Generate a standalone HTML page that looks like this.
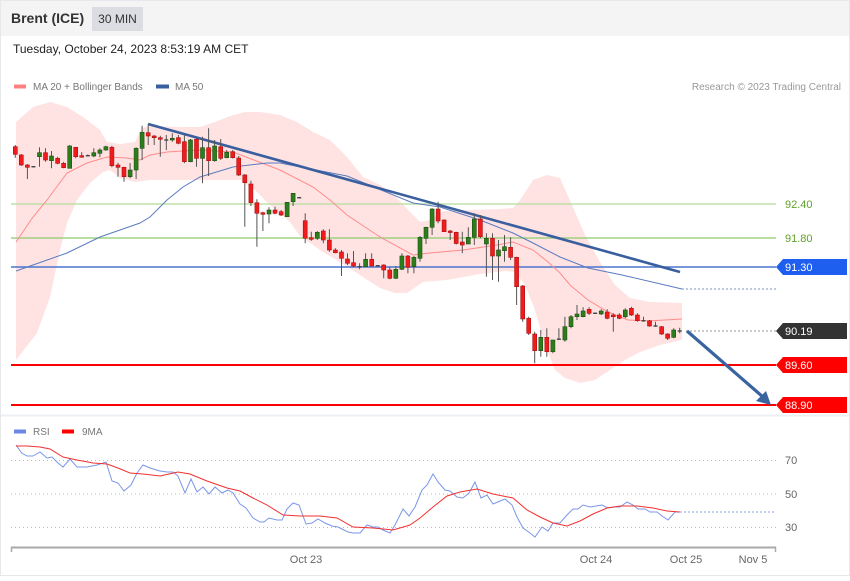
<!DOCTYPE html>
<html><head><meta charset="utf-8"><style>
html,body{margin:0;padding:0;background:#fff;}
body{width:850px;height:576px;overflow:hidden;font-family:"Liberation Sans",Arial,sans-serif;}
svg text{font-family:"Liberation Sans",Arial,sans-serif;}
</style></head><body>
<svg width="850" height="576" viewBox="0 0 850 576" xmlns="http://www.w3.org/2000/svg">
<rect x="0" y="0" width="850" height="576" fill="#fff"/>
<rect x="0.5" y="0.5" width="849" height="575" fill="none" stroke="#e6e8ea"/>
<rect x="1" y="1" width="848" height="35" fill="#f4f4f4"/>
<text x="11" y="23" font-size="14" font-weight="bold" fill="#333">Brent (ICE)</text>
<rect x="92" y="7" width="51" height="24" fill="#dcdde2"/>
<text x="117.5" y="23" font-size="12" fill="#333" text-anchor="middle">30 MIN</text>
<text x="13" y="53" font-size="12" fill="#222">Tuesday, October 24, 2023 8:53:19 AM CET</text>
<rect x="14" y="84.5" width="12" height="4" fill="#ff8080"/>
<text x="33" y="90" font-size="10" fill="#777">MA 20 + Bollinger Bands</text>
<rect x="156" y="84.5" width="13" height="4" fill="#3a5f9f"/>
<text x="175" y="90" font-size="10" fill="#777">MA 50</text>
<text x="841" y="90" font-size="10" fill="#999" text-anchor="end">Research © 2023 Trading Central</text>

<polygon fill="#ffe2e2" points="16,122 33,107 50,102 67,107 83,117 100,130 107,142 120,144 135,142 142,128 150,126 180,127 200,127 215,122 230,116 245,112 260,112 280,115 297,122 313,132 330,140 347,157 363,177 380,185 395,196 410,212 420,222 430,220 443,211 467,210 500,209 513,208 520,200 533,180 547,175 560,178 572,205 585,235 600,262 615,285 630,298 650,302 682,303 682,340 660,345 640,352 625,360 610,370 595,380 580,383 565,378 555,370 545,345 535,310 525,285 515,272 505,271 480,274 447,280 423,282 407,293 395,293 380,288 363,277 340,262 323,252 300,236 290,222 270,205 255,190 240,180 200,180 150,180 135,182 120,178 110,170 103,172 90,183 77,200 67,223 60,250 50,297 37,333 16,360"/>

<line x1="11" y1="204" x2="776" y2="204" stroke="#bfe0a8" stroke-width="1.6"/>
<line x1="11" y1="238" x2="776" y2="238" stroke="#8fcb6c" stroke-width="1.2"/>
<line x1="11" y1="267" x2="776" y2="267" stroke="#4a74d0" stroke-width="1.5"/>
<line x1="11" y1="365" x2="776" y2="365" stroke="#ff0000" stroke-width="2"/>
<line x1="11" y1="405" x2="776" y2="405" stroke="#ff0000" stroke-width="2"/>
<line x1="686" y1="331" x2="776" y2="331" stroke="#999" stroke-width="1" stroke-dasharray="2,2"/>
<line x1="682" y1="289" x2="776" y2="289" stroke="#7a94c4" stroke-width="1" stroke-dasharray="2,2"/>

<polyline fill="none" stroke="#ff8c8c" stroke-width="1" points="16,242 33,217 47,200 67,173 87,163 107,157 127,158 140,160 150,155 167,152 183,151 200,150 233,152 267,165 280,170 313,187 330,200 347,215 380,237 413,255 430,253 463,250 497,245 513,242 533,250 548,262 560,273 570,285 588,300 608,312 628,320 648,321 682,319"/>
<polyline fill="none" stroke="#5a7cc0" stroke-width="1" points="16,271 33,265 67,253 100,237 140,223 150,217 167,200 183,187 200,177 233,167 267,163 280,163 347,176 413,203 440,207 480,220 513,233 533,243 560,257 588,268 622,275 682,289"/>
<line x1="148" y1="124" x2="680" y2="272" stroke="#3a5f9f" stroke-width="2.6"/>

<g stroke="#555" stroke-width="1">
<path d="M15.3 145V157.7M21.3 154V166M27.4 164V179M33.4 166V167.5M39.5 147.3V166.7M45.5 148.3V161.7M51.5 151V168.3M57.6 156.7V164.3M63.6 161.7V168.3M69.7 145V168.3M75.7 147V158.3M81.7 152.3V157.7M87.8 154.5V156.5M93.8 148.3V157.3M99.9 148.3V157.3M105.9 145.7V150.7M111.9 145.7V167.3M118 162.7V176.7M124 166.7V181.7M130.1 163V178.3M136.1 147.3V179M142.1 125.7V160M148.2 124.3V145M154.2 135V145M160.3 135.7V156.7M166.3 135V150M172.3 133.3V141.7M178.4 135V144.3M184.4 135V163.3M190.5 139V162.3M196.5 138.3V166.7M202.5 136.7V183.3M208.6 128.3V176M214.6 140V161.7M220.7 139V160M226.7 150V158.3M232.7 150V158.5M238.7 156V176M244.8 174V226.7M250.9 180.7V206M256.9 199.3V246.7M262.9 211.7V231M269 207.3V223.3M275 206.7V214.3M281.1 210V216M287.1 202V217M293.1 193.3V206M299.2 197V198.5M305.2 213.3V243.3M311.3 231.7V240.7M317.3 231V240M323.3 229.3V243.3M329.4 229.3V251.7M335.4 248.3V253.3M341.5 250V276M347.5 253.3V265M353.5 251V267.3M359.6 263.3V269.3M365.6 253.3V266.7M371.7 253.3V266.7M377.7 265V266.5M383.7 264.3V278.3M389.8 266.7V279.3M395.8 266V279M401.9 253.3V270M407.9 255V273.3M413.9 256V273.3M420 236V261.7M426 226.7V244M432.1 208.3V235M438.1 201.7V223.3M444.1 219.3V231.7M450.2 230V240M456.2 231.7V244.5M462.3 231.7V253.3M468.3 227.3V244M474.3 213.3V245M480.4 215V238.3M486.4 233.3V276.7M492.5 233.3V280M498.5 240V281.7M504.5 235V261.7M510.6 237.3V260M516.6 256.7V305M522.7 285V321.7M528.7 316.7V335M534.7 331.7V363.3M540.8 330V356.7M546.8 328.3V356.7M552.9 340V353.3M558.9 328.3V340M564.9 316.7V341.7M571 315V328.3M577 305V320M583.1 307.3V317.3M589.1 307.3V315M595.1 312.5V314M601.2 309.3V315M607.2 309.3V319.3M613.3 313.3V331.7M619.3 313.3V319.3M625.3 308.3V318.3M631.4 306.7V316M637.4 313.3V321.7M643.5 316.7V321.7M649.5 320V326.7M655.5 321.7V326.7M661.6 326V335M667.6 333.3V340M673.7 328.3V338.3M679.7 327.7V333.3"/>
</g>
<g fill="#ee1c1c" stroke="#b01010" stroke-width="0.6">
<rect x="13.3" y="146.7" width="4" height="7.6"/>
<rect x="19.3" y="155" width="4" height="10"/>
<rect x="25.4" y="165" width="4" height="2.3"/>
<rect x="43.5" y="152.7" width="4" height="7.3"/>
<rect x="55.6" y="158.3" width="4" height="5"/>
<rect x="61.6" y="163.3" width="4" height="4.4"/>
<rect x="73.7" y="147.3" width="4" height="9.4"/>
<rect x="79.7" y="155.7" width="4" height="1.5"/>
<rect x="109.9" y="147.3" width="4" height="18.4"/>
<rect x="116" y="165" width="4" height="2.3"/>
<rect x="122" y="167.3" width="4" height="9.4"/>
<rect x="146.2" y="132.7" width="4" height="3.3"/>
<rect x="152.2" y="136" width="4" height="1.7"/>
<rect x="158.3" y="137.7" width="4" height="1.6"/>
<rect x="176.4" y="137.7" width="4" height="5.6"/>
<rect x="182.4" y="141.7" width="4" height="20"/>
<rect x="194.5" y="139.3" width="4" height="19"/>
<rect x="206.6" y="147.7" width="4" height="13"/>
<rect x="218.7" y="146.7" width="4" height="11.6"/>
<rect x="230.7" y="151.7" width="4" height="6"/>
<rect x="236.7" y="158" width="4" height="17"/>
<rect x="242.8" y="175" width="4" height="7.7"/>
<rect x="248.9" y="184" width="4" height="18.7"/>
<rect x="254.9" y="202.7" width="4" height="10.6"/>
<rect x="260.9" y="212.7" width="4" height="1.6"/>
<rect x="273" y="210" width="4" height="3.3"/>
<rect x="279.1" y="211.7" width="4" height="3.3"/>
<rect x="303.2" y="220.7" width="4" height="17.6"/>
<rect x="309.3" y="237.7" width="4" height="1.6"/>
<rect x="321.3" y="231" width="4" height="9"/>
<rect x="327.4" y="240" width="4" height="10"/>
<rect x="333.4" y="250" width="4" height="2.7"/>
<rect x="339.5" y="252" width="4" height="6.3"/>
<rect x="345.5" y="259" width="4" height="4.3"/>
<rect x="351.5" y="262.7" width="4" height="3.3"/>
<rect x="369.7" y="259.3" width="4" height="6.7"/>
<rect x="381.7" y="265" width="4" height="5"/>
<rect x="387.8" y="270" width="4" height="8.3"/>
<rect x="405.9" y="256" width="4" height="11.3"/>
<rect x="436.1" y="209" width="4" height="12"/>
<rect x="442.1" y="220" width="4" height="11.7"/>
<rect x="448.2" y="231" width="4" height="1.5"/>
<rect x="454.2" y="232.3" width="4" height="11.2"/>
<rect x="460.3" y="242" width="4" height="3"/>
<rect x="478.4" y="219" width="4" height="17.7"/>
<rect x="490.5" y="238.3" width="4" height="17.7"/>
<rect x="508.6" y="247.3" width="4" height="10"/>
<rect x="514.6" y="257.3" width="4" height="29.4"/>
<rect x="520.7" y="286" width="4" height="33"/>
<rect x="526.7" y="318.3" width="4" height="15"/>
<rect x="532.7" y="334" width="4" height="16.7"/>
<rect x="544.8" y="337.3" width="4" height="14.4"/>
<rect x="587.1" y="309.3" width="4" height="4"/>
<rect x="605.2" y="312" width="4" height="6.3"/>
<rect x="611.3" y="315" width="4" height="1.7"/>
<rect x="617.3" y="315" width="4" height="3.3"/>
<rect x="629.4" y="308.3" width="4" height="6.7"/>
<rect x="635.4" y="315" width="4" height="5.7"/>
<rect x="647.5" y="320.7" width="4" height="5.3"/>
<rect x="659.6" y="326.7" width="4" height="7.3"/>
<rect x="665.6" y="334" width="4" height="4.3"/>
</g>
<g fill="#2e7d1c" stroke="#1c5010" stroke-width="0.6">
<rect x="37.5" y="152.7" width="4" height="4"/>
<rect x="49.5" y="156" width="4" height="4.7"/>
<rect x="67.7" y="146" width="4" height="22.3"/>
<rect x="91.8" y="152.7" width="4" height="3.3"/>
<rect x="97.9" y="150" width="4" height="3.3"/>
<rect x="103.9" y="146.7" width="4" height="3.3"/>
<rect x="128.1" y="170" width="4" height="6.7"/>
<rect x="134.1" y="148.3" width="4" height="21.7"/>
<rect x="140.1" y="132.3" width="4" height="16"/>
<rect x="170.3" y="138.3" width="4" height="1.7"/>
<rect x="188.5" y="140" width="4" height="21.7"/>
<rect x="200.5" y="147.7" width="4" height="10.6"/>
<rect x="212.6" y="146" width="4" height="14.7"/>
<rect x="224.7" y="152.3" width="4" height="5.4"/>
<rect x="267" y="210" width="4" height="4"/>
<rect x="285.1" y="202.3" width="4" height="14.4"/>
<rect x="291.1" y="193.3" width="4" height="8.4"/>
<rect x="315.3" y="232.3" width="4" height="6"/>
<rect x="363.6" y="259.3" width="4" height="7.4"/>
<rect x="393.8" y="269.3" width="4" height="9"/>
<rect x="399.9" y="256" width="4" height="13.3"/>
<rect x="411.9" y="257.3" width="4" height="9.4"/>
<rect x="418" y="237.3" width="4" height="21"/>
<rect x="424" y="227.3" width="4" height="11"/>
<rect x="430.1" y="209" width="4" height="18.3"/>
<rect x="466.3" y="237.3" width="4" height="6.7"/>
<rect x="472.3" y="219" width="4" height="18.3"/>
<rect x="484.4" y="238.3" width="4" height="5.7"/>
<rect x="496.5" y="250" width="4" height="6"/>
<rect x="502.5" y="246.7" width="4" height="4"/>
<rect x="538.8" y="337.3" width="4" height="13.4"/>
<rect x="550.9" y="340" width="4" height="11.7"/>
<rect x="562.9" y="326.7" width="4" height="13.3"/>
<rect x="569" y="316.7" width="4" height="10"/>
<rect x="575" y="314" width="4" height="2.7"/>
<rect x="581.1" y="311" width="4" height="5.7"/>
<rect x="599.2" y="311" width="4" height="3"/>
<rect x="623.3" y="310" width="4" height="6.7"/>
<rect x="671.7" y="330" width="4" height="7.3"/>
</g>
<g fill="#444">
<rect x="31.4" y="166" width="4" height="1.4"/>
<rect x="85.8" y="155" width="4" height="1.4"/>
<rect x="164.3" y="139.3" width="4" height="1.4"/>
<rect x="297.2" y="197" width="4" height="1.4"/>
<rect x="357.6" y="266" width="4" height="1.4"/>
<rect x="375.7" y="265" width="4" height="1.4"/>
<rect x="556.9" y="338.5" width="4" height="1.4"/>
<rect x="593.1" y="312.6" width="4" height="1.4"/>
<rect x="641.5" y="320" width="4" height="1.4"/>
<rect x="653.5" y="325.3" width="4" height="1.4"/>
<rect x="677.7" y="330.3" width="4" height="1.4"/>
</g>

<line x1="687" y1="331" x2="763" y2="397" stroke="#3a64a0" stroke-width="3.2"/>
<polygon points="771,405 756,401 766,391" fill="#3a64a0"/>

<text x="785" y="208" font-size="11" fill="#62a02a">92.40</text>
<text x="785" y="242" font-size="11" fill="#62a02a">91.80</text>
<polygon points="776,267 783,259 847,259 847,275 783,275" fill="#1e5ff0"/>
<text x="785" y="271" font-size="11" fill="#fff">91.30</text>
<polygon points="776,331 783,323 847,323 847,339 783,339" fill="#333"/>
<text x="785" y="335" font-size="11" fill="#fff">90.19</text>
<polygon points="776,365 783,357 847,357 847,373 783,373" fill="#ff0000"/>
<text x="785" y="369" font-size="11" fill="#fff">89.60</text>
<polygon points="776,405 783,397 847,397 847,413 783,413" fill="#ff0000"/>
<text x="785" y="409" font-size="11" fill="#fff">88.90</text>

<rect x="1" y="414.5" width="848" height="2" fill="#eceff3"/>

<rect x="14" y="429.5" width="12" height="4" fill="#6a86e6"/>
<text x="33" y="435" font-size="10" fill="#777">RSI</text>
<rect x="62" y="429.5" width="12" height="4" fill="#ff0000"/>
<text x="82" y="435" font-size="10" fill="#777">9MA</text>
<g stroke="#bbb" stroke-width="1" stroke-dasharray="1,3">
<line x1="11" y1="460.5" x2="776" y2="460.5"/>
<line x1="11" y1="494" x2="776" y2="494"/>
<line x1="11" y1="527.5" x2="776" y2="527.5"/>
</g>
<text x="785" y="464" font-size="11" fill="#666">70</text>
<text x="785" y="498" font-size="11" fill="#666">50</text>
<text x="785" y="531" font-size="11" fill="#666">30</text>
<line x1="680" y1="512" x2="776" y2="512" stroke="#8aa2ea" stroke-width="1" stroke-dasharray="2,2"/>
<polyline fill="none" stroke="#7b96e8" stroke-width="1" points="16,445 21.7,453 27,456 33,456 40,452 47,458 52,457 58,463 63,467 70,459 77,467 87,467 97,465 106,462 112,481 118,483 124,491 131,485 137,473 143,465 150,468 160,471 167,472 173,472 178,476 185,493 191,479 197,492 203,487 209,494 215,487 222,493 228,490 233,493 240,504 246,508 253,518 260,522 264,522 269,518 277,520 282,520 287,509 293,503 299,505 306,524 312,523 318,519 325,523 332,526 338,527 348,532 353,533 360,533 367,525 373,527 378,527 383,530 390,533 395,525 403,509 409,516 415,507 422,490 427,485 433,474 438,482 445,490 450,491 457,497 463,498 469,493 475,482 481,498 487,495 493,504 505,499 512,505 517,517 523,528 530,533 535,537 542,527 548,531 553,523 560,523 567,515 573,509 578,509 583,505 590,507 602,505 608,508 615,507 620,507 627,502 633,505 638,509 645,509 650,512 657,512 662,516 668,520 675,512 680,512"/>
<polyline fill="none" stroke="#f23030" stroke-width="1" points="16,446 27,446 40,447 50,449 63,457 77,460 93,463 107,464 118,468 130,473 143,474 160,476 178,472 190,474 207,481 227,488 240,491 253,498 267,505 283,515 300,516 320,516 337,518 353,527 373,528 393,530 410,525 420,518 433,507 447,496 460,492 477,489 493,494 513,498 527,510 540,517 553,523 567,526 580,521 593,514 607,508 620,506 637,506 653,508 667,511 680,512"/>

<line x1="11" y1="547.5" x2="776" y2="547.5" stroke="#aaa" stroke-width="2"/>
<line x1="11.5" y1="547" x2="11.5" y2="552" stroke="#aaa" stroke-width="1.5"/>
<line x1="775.5" y1="547" x2="775.5" y2="552" stroke="#aaa" stroke-width="1.5"/>
<text x="306" y="563" font-size="11" fill="#666" text-anchor="middle">Oct 23</text>
<text x="596" y="563" font-size="11" fill="#666" text-anchor="middle">Oct 24</text>
<text x="686" y="563" font-size="11" fill="#666" text-anchor="middle">Oct 25</text>
<text x="753" y="563" font-size="11" fill="#666" text-anchor="middle">Nov 5</text>
</svg>
</body></html>
